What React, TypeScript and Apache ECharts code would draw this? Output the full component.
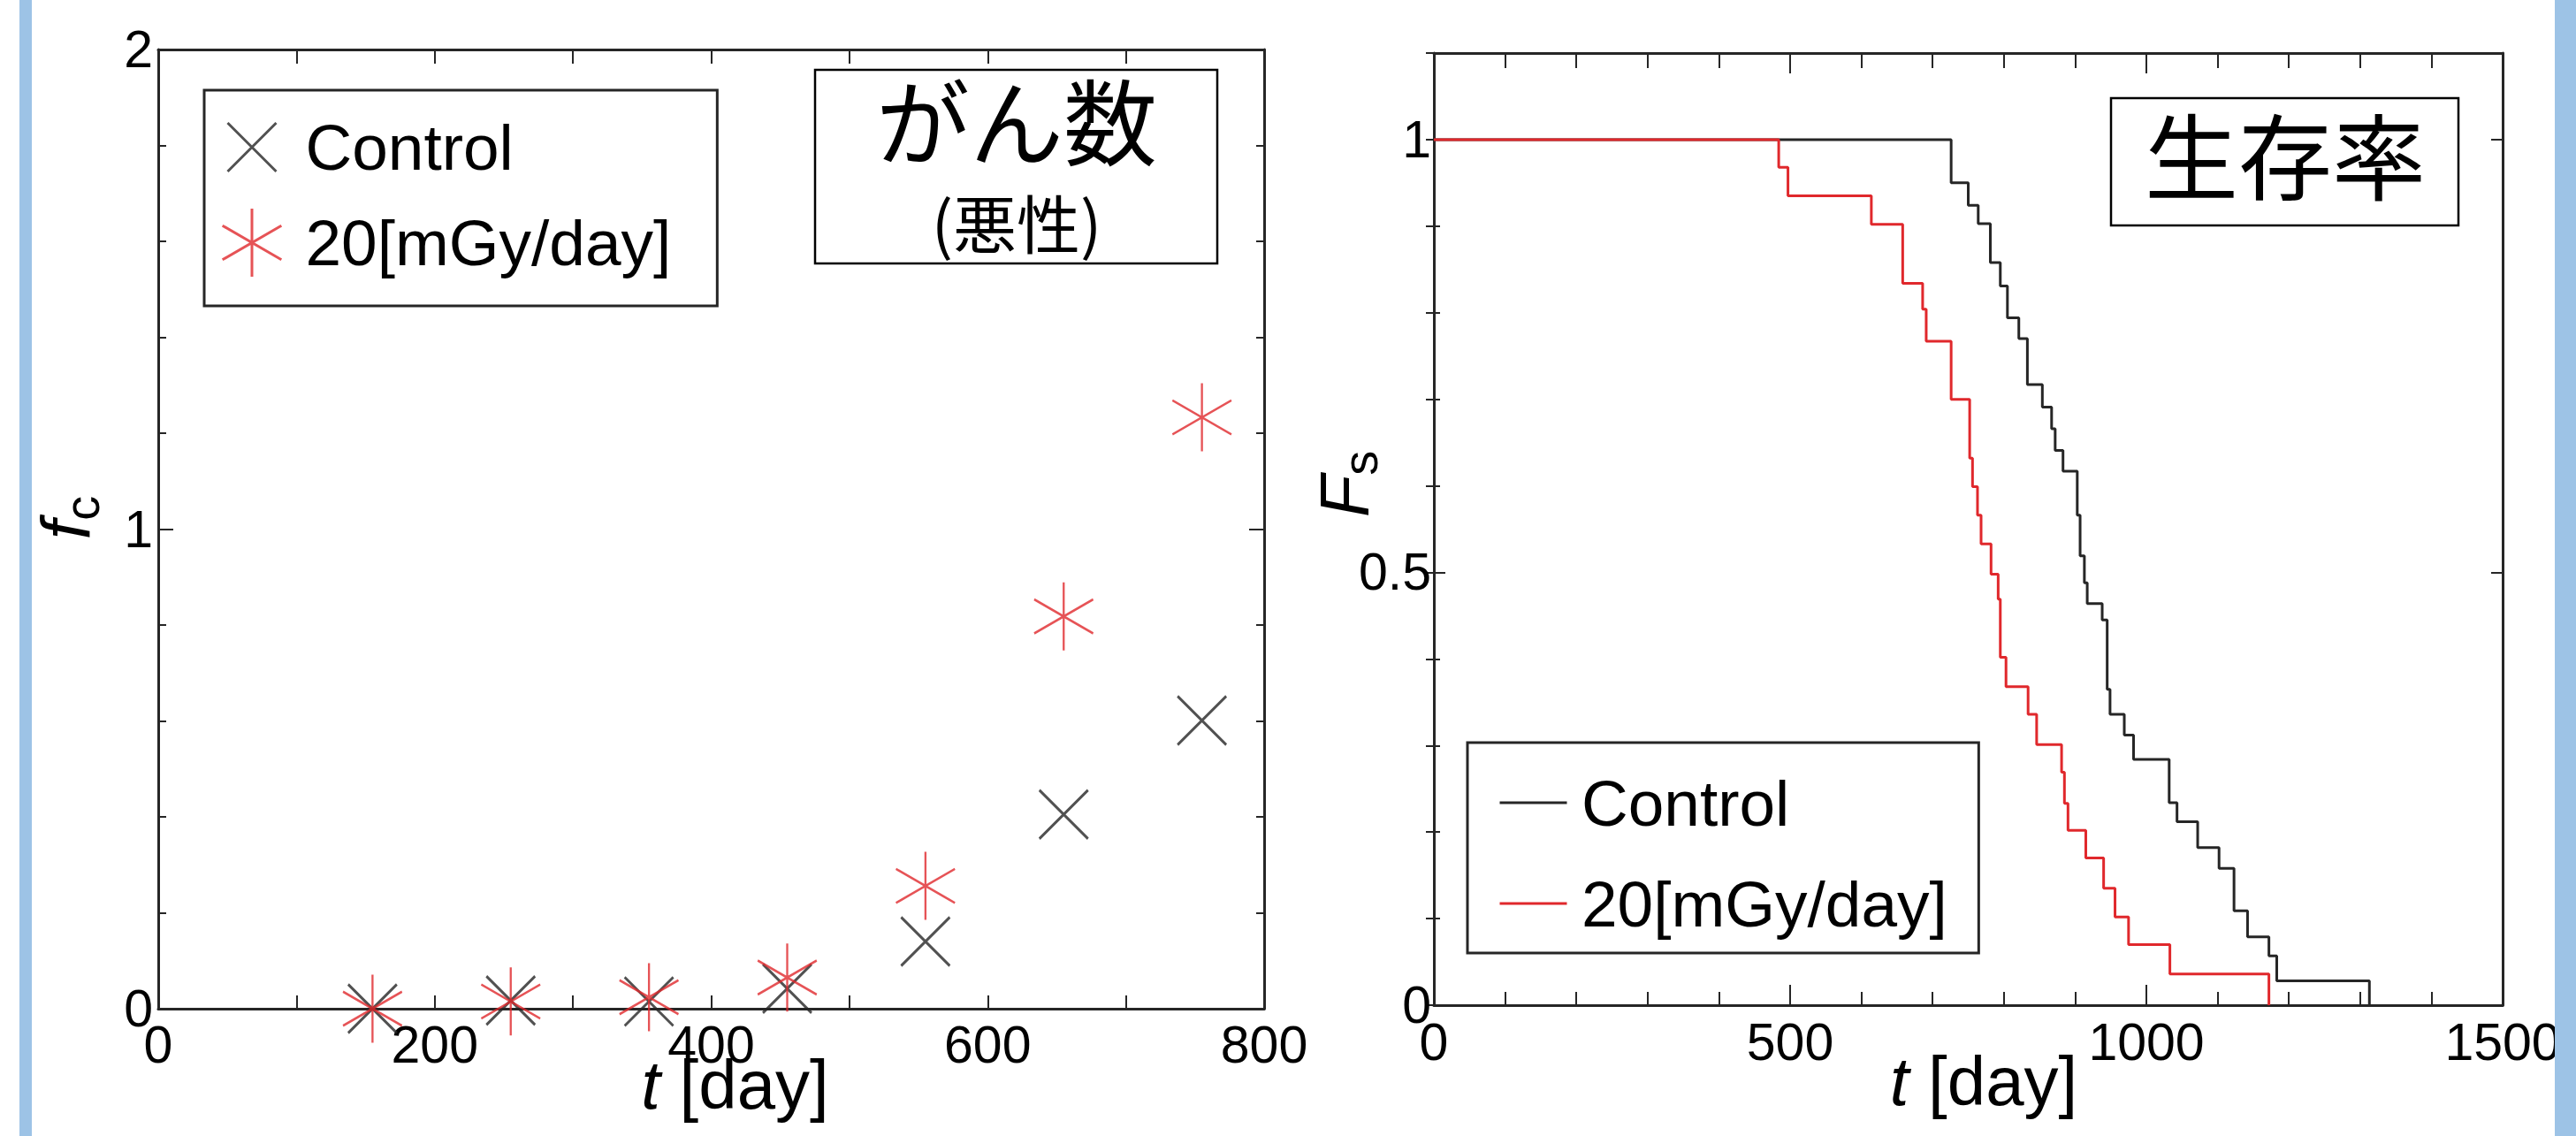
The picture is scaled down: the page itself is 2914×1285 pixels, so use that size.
import React, { useEffect, useRef } from 'react';
import * as echarts from 'echarts';

const W = 2914;
const H = 1285;
const FONT = "'Liberation Sans', Arial, Helvetica, sans-serif";
const CJK = "'Noto Sans CJK JP', 'Noto Sans CJK SC', sans-serif";

// ---------- left panel: cancer count (malignant) ----------
const seriesNames = ['Control', '20[mGy/day]'];
const cancerDays = [155, 255, 355, 455, 555, 655, 755];
const cancerControl = [0, 0.017, 0.015, 0.042, 0.14, 0.405, 0.601];
const cancer20 = [0, 0.015, 0.024, 0.065, 0.256, 0.818, 1.233];
const cancerX = { min: 0, max: 800, interval: 200 };
const cancerY = { min: 0, max: 2, interval: 1 };

// ---------- right panel: survival rate ----------
const survControlDays = [0, 726, 750, 764, 781, 795, 805, 821, 833, 854, 867, 872, 883, 903, 907, 913, 917, 938, 945, 949, 969, 982, 1032, 1043, 1072, 1102, 1123, 1142, 1172, 1183, 1313];
const survControlRate = [1, 0.95, 0.924, 0.903, 0.858, 0.831, 0.794, 0.77, 0.717, 0.691, 0.666, 0.641, 0.617, 0.566, 0.519, 0.488, 0.464, 0.445, 0.365, 0.336, 0.312, 0.284, 0.234, 0.212, 0.182, 0.158, 0.109, 0.079, 0.057, 0.028, 0];
const surv20Days = [0, 484, 497, 614, 658, 686, 691, 726, 752, 756, 763, 768, 782, 792, 795, 803, 834, 846, 881, 885, 890, 915, 940, 956, 975, 1033, 1172];
const surv20Rate = [1, 0.968, 0.935, 0.902, 0.834, 0.804, 0.767, 0.7, 0.632, 0.599, 0.566, 0.533, 0.498, 0.469, 0.402, 0.368, 0.336, 0.301, 0.269, 0.233, 0.202, 0.17, 0.135, 0.102, 0.07, 0.036, 0];
const survX = { min: 0, max: 1500, interval: 500 };
const survY = { min: 0, max: 1.1 };

const BLACK = '#262626';
const RED = '#E0282C';
const BLUE = '#9DC3E6';

const X_SYMBOL = 'path://M0 0M67 77M6 11L61 66M61 11L6 66';
const STAR_SYMBOL = 'path://M0 0M67 77M33.5 0L33.5 77M0.16 19.25L66.84 57.75M0.16 57.75L66.84 19.25';

const axisLine = { show: true, onZero: false, lineStyle: { color: BLACK, width: 3 } };
const tickLine = { color: BLACK, width: 2 };
const labelStyle = { fontFamily: FONT, fontSize: 59, color: '#000' };

function xName(pad: number) {
  return {
    name: '{i|t} [day]',
    nameLocation: 'middle',
    nameGap: 47,
    nameMoveOverlap: false,
    nameTextStyle: {
      fontFamily: FONT, fontSize: 78, lineHeight: 78, color: '#000', padding: [0, 0, 0, pad],
      rich: { i: { fontFamily: FONT, fontStyle: 'italic', fontSize: 78, lineHeight: 78, color: '#000' } },
    },
  };
}

function yName(main: string, sub: string, gap: number, pad: number) {
  return {
    name: `{m|${main}}{s|${sub}}`,
    nameLocation: 'middle',
    nameRotate: 90,
    nameGap: gap,
    nameMoveOverlap: false,
    nameTextStyle: {
      padding: [0, 0, 0, pad],
      rich: {
        m: { fontFamily: FONT, fontStyle: 'italic', fontSize: 78, lineHeight: 90, color: '#000' },
        s: { fontFamily: FONT, fontSize: 56, lineHeight: 30, verticalAlign: 'bottom', color: '#000' },
      },
    },
  };
}

const plainNumber = (v: number) => String(v);

const leftOption: any = {
  animation: false,
  grid: { left: 179, top: 56, width: 1251, height: 1085, outerBoundsMode: 'none', containLabel: false },
  xAxis: [
    {
      type: 'value', position: 'bottom', ...cancerX,
      axisLine, splitLine: { show: false },
      axisTick: { show: true, inside: true, length: 15, lineStyle: tickLine },
      minorTick: { show: true, splitNumber: 2, length: 15, lineStyle: tickLine },
      axisLabel: { ...labelStyle, margin: 11, formatter: plainNumber },
      ...xName(54),
    },
    {
      type: 'value', position: 'top', ...cancerX,
      axisLine, splitLine: { show: false },
      axisTick: { show: true, inside: true, length: 16, lineStyle: tickLine },
      minorTick: { show: true, splitNumber: 2, length: 16, lineStyle: tickLine },
      axisLabel: { show: false },
    },
  ],
  yAxis: [
    {
      type: 'value', position: 'left', ...cancerY,
      axisLine, splitLine: { show: false },
      axisTick: { show: true, inside: true, length: 17, lineStyle: tickLine },
      minorTick: { show: true, splitNumber: 5, length: 9, lineStyle: tickLine },
      axisLabel: { ...labelStyle, margin: 6, formatter: plainNumber },
      ...yName('f', 'c', 59, 26),
    },
    {
      type: 'value', position: 'right', ...cancerY,
      axisLine, splitLine: { show: false },
      axisTick: { show: true, inside: true, length: 17, lineStyle: tickLine },
      minorTick: { show: true, splitNumber: 5, length: 9, lineStyle: tickLine },
      axisLabel: { show: false },
    },
  ],
  legend: {
    orient: 'vertical', left: 231, top: 102,
    data: seriesNames,
    selectedMode: false,
    itemWidth: 67, itemHeight: 77, itemGap: 28,
    padding: [24.5, 52, 31.5, 19],
    backgroundColor: '#fff', borderColor: BLACK, borderWidth: 3,
    itemStyle: { borderWidth: 3 },
    textStyle: { fontFamily: FONT, fontSize: 73, lineHeight: 73, color: '#000', padding: [0, 0, 0, 22] },
  },
  series: [
    {
      type: 'scatter', name: seriesNames[0],
      data: cancerDays.map((d, i) => [d, cancerControl[i]]),
      symbol: X_SYMBOL, symbolSize: [67, 77],
      itemStyle: { color: 'rgba(0,0,0,0)', borderColor: BLACK, borderWidth: 3 },
    },
    {
      type: 'scatter', name: seriesNames[1],
      data: cancerDays.map((d, i) => [d, cancer20[i]]),
      symbol: STAR_SYMBOL, symbolSize: [67, 77],
      itemStyle: { color: 'rgba(0,0,0,0)', borderColor: RED, borderWidth: 2.5 },
    },
  ],
  graphic: [
    { type: 'rect', z: 100, shape: { x: 22, y: 0, width: 14, height: H }, style: { fill: BLUE } },
    { type: 'rect', z: 10, shape: { x: 922, y: 79, width: 455, height: 219 }, style: { fill: '#fff', stroke: '#000', lineWidth: 2.5 } },
    { type: 'text', z: 11, x: 1150, y: 133, style: { text: 'がん数', fontFamily: CJK, fontSize: 106, lineHeight: 106, fill: '#000', align: 'center', verticalAlign: 'middle' } },
    { type: 'text', z: 11, x: 1150, y: 249, style: { text: '(悪性)', fontFamily: CJK, fontSize: 72, lineHeight: 72, fill: '#000', align: 'center', verticalAlign: 'middle' } },
  ],
};

const rightOption: any = {
  animation: false,
  grid: { left: 1622, top: 60, width: 1209, height: 1077, outerBoundsMode: 'none', containLabel: false },
  xAxis: [
    {
      type: 'value', position: 'bottom', ...survX,
      axisLine, splitLine: { show: false },
      axisTick: { show: true, inside: true, length: 23, lineStyle: tickLine },
      minorTick: { show: true, splitNumber: 5, length: 15, lineStyle: tickLine },
      axisLabel: { ...labelStyle, margin: 12, formatter: plainNumber },
      ...xName(35),
    },
    {
      type: 'value', position: 'top', ...survX,
      axisLine, splitLine: { show: false },
      axisTick: { show: true, inside: true, length: 23, lineStyle: tickLine },
      minorTick: { show: true, splitNumber: 5, length: 17, lineStyle: tickLine },
      axisLabel: { show: false },
    },
  ],
  yAxis: [
    {
      type: 'value', position: 'left', ...survY, interval: 0.5,
      axisLine, splitLine: { show: false },
      axisTick: { show: true, inside: true, length: 13, lineStyle: tickLine },
      axisLabel: { ...labelStyle, margin: 3, formatter: (v: number) => (v > 1.05 ? '' : String(+v.toFixed(1))) },
      ...yName('F', 's', 56, 102),
    },
    {
      type: 'value', position: 'left', ...survY, interval: 0.1,
      axisLine: { show: false }, splitLine: { show: false },
      axisTick: { show: true, inside: true, length: 7, lineStyle: tickLine },
      axisLabel: { show: false },
    },
    {
      type: 'value', position: 'right', ...survY, interval: 0.5,
      axisLine, splitLine: { show: false },
      axisTick: { show: true, inside: true, length: 13, lineStyle: tickLine },
      axisLabel: { show: false },
    },
    {
      type: 'value', position: 'right', ...survY, interval: 0.1,
      axisLine: { show: false }, splitLine: { show: false },
      axisTick: { show: true, inside: true, length: 9, lineStyle: tickLine },
      axisLabel: { show: false },
    },
  ],
  legend: {
    orient: 'vertical', left: 1660, top: 840,
    data: seriesNames,
    selectedMode: false,
    itemWidth: 76, itemHeight: 73, itemGap: 41,
    padding: [31.5, 35.5, 19.5, 35],
    backgroundColor: '#fff', borderColor: BLACK, borderWidth: 3,
    itemStyle: { opacity: 0 },
    lineStyle: { width: 3, opacity: 1 },
    textStyle: { fontFamily: FONT, fontSize: 73, lineHeight: 73, color: '#000', padding: [0, 0, 0, 11.5] },
  },
  series: [
    {
      type: 'line', name: seriesNames[0], step: 'end',
      data: survControlDays.map((d, i) => [d, survControlRate[i]]),
      symbol: 'none', showSymbol: false,
      lineStyle: { color: BLACK, width: 3 }, itemStyle: { color: BLACK },
    },
    {
      type: 'line', name: seriesNames[1], step: 'end',
      data: surv20Days.map((d, i) => [d, surv20Rate[i]]),
      symbol: 'none', showSymbol: false,
      lineStyle: { color: RED, width: 3 }, itemStyle: { color: RED },
    },
  ],
  graphic: [
    { type: 'rect', z: 100, shape: { x: 2890, y: 0, width: 24, height: H }, style: { fill: BLUE } },
    { type: 'rect', z: 10, shape: { x: 2388, y: 111, width: 393, height: 144 }, style: { fill: '#fff', stroke: '#000', lineWidth: 2.5 } },
    { type: 'text', z: 11, x: 2585, y: 172, style: { text: '生存率', fontFamily: CJK, fontSize: 106, lineHeight: 106, fill: '#000', align: 'center', verticalAlign: 'middle' } },
  ],
};

function Panel({ option }: { option: any }) {
  const ref = useRef<HTMLDivElement>(null);
  useEffect(() => {
    const chart = echarts.init(ref.current as HTMLDivElement, undefined, { renderer: 'svg', width: W, height: H });
    chart.setOption(option);
    return () => chart.dispose();
  }, [option]);
  return <div ref={ref} style={{ position: 'absolute', left: 0, top: 0, width: W, height: H }} />;
}

export default function App() {
  return (
    <div style={{ position: 'absolute', left: 0, top: 0, width: W, height: H, background: '#fff', overflow: 'hidden' }}>
      <Panel option={leftOption} />
      <Panel option={rightOption} />
    </div>
  );
}
